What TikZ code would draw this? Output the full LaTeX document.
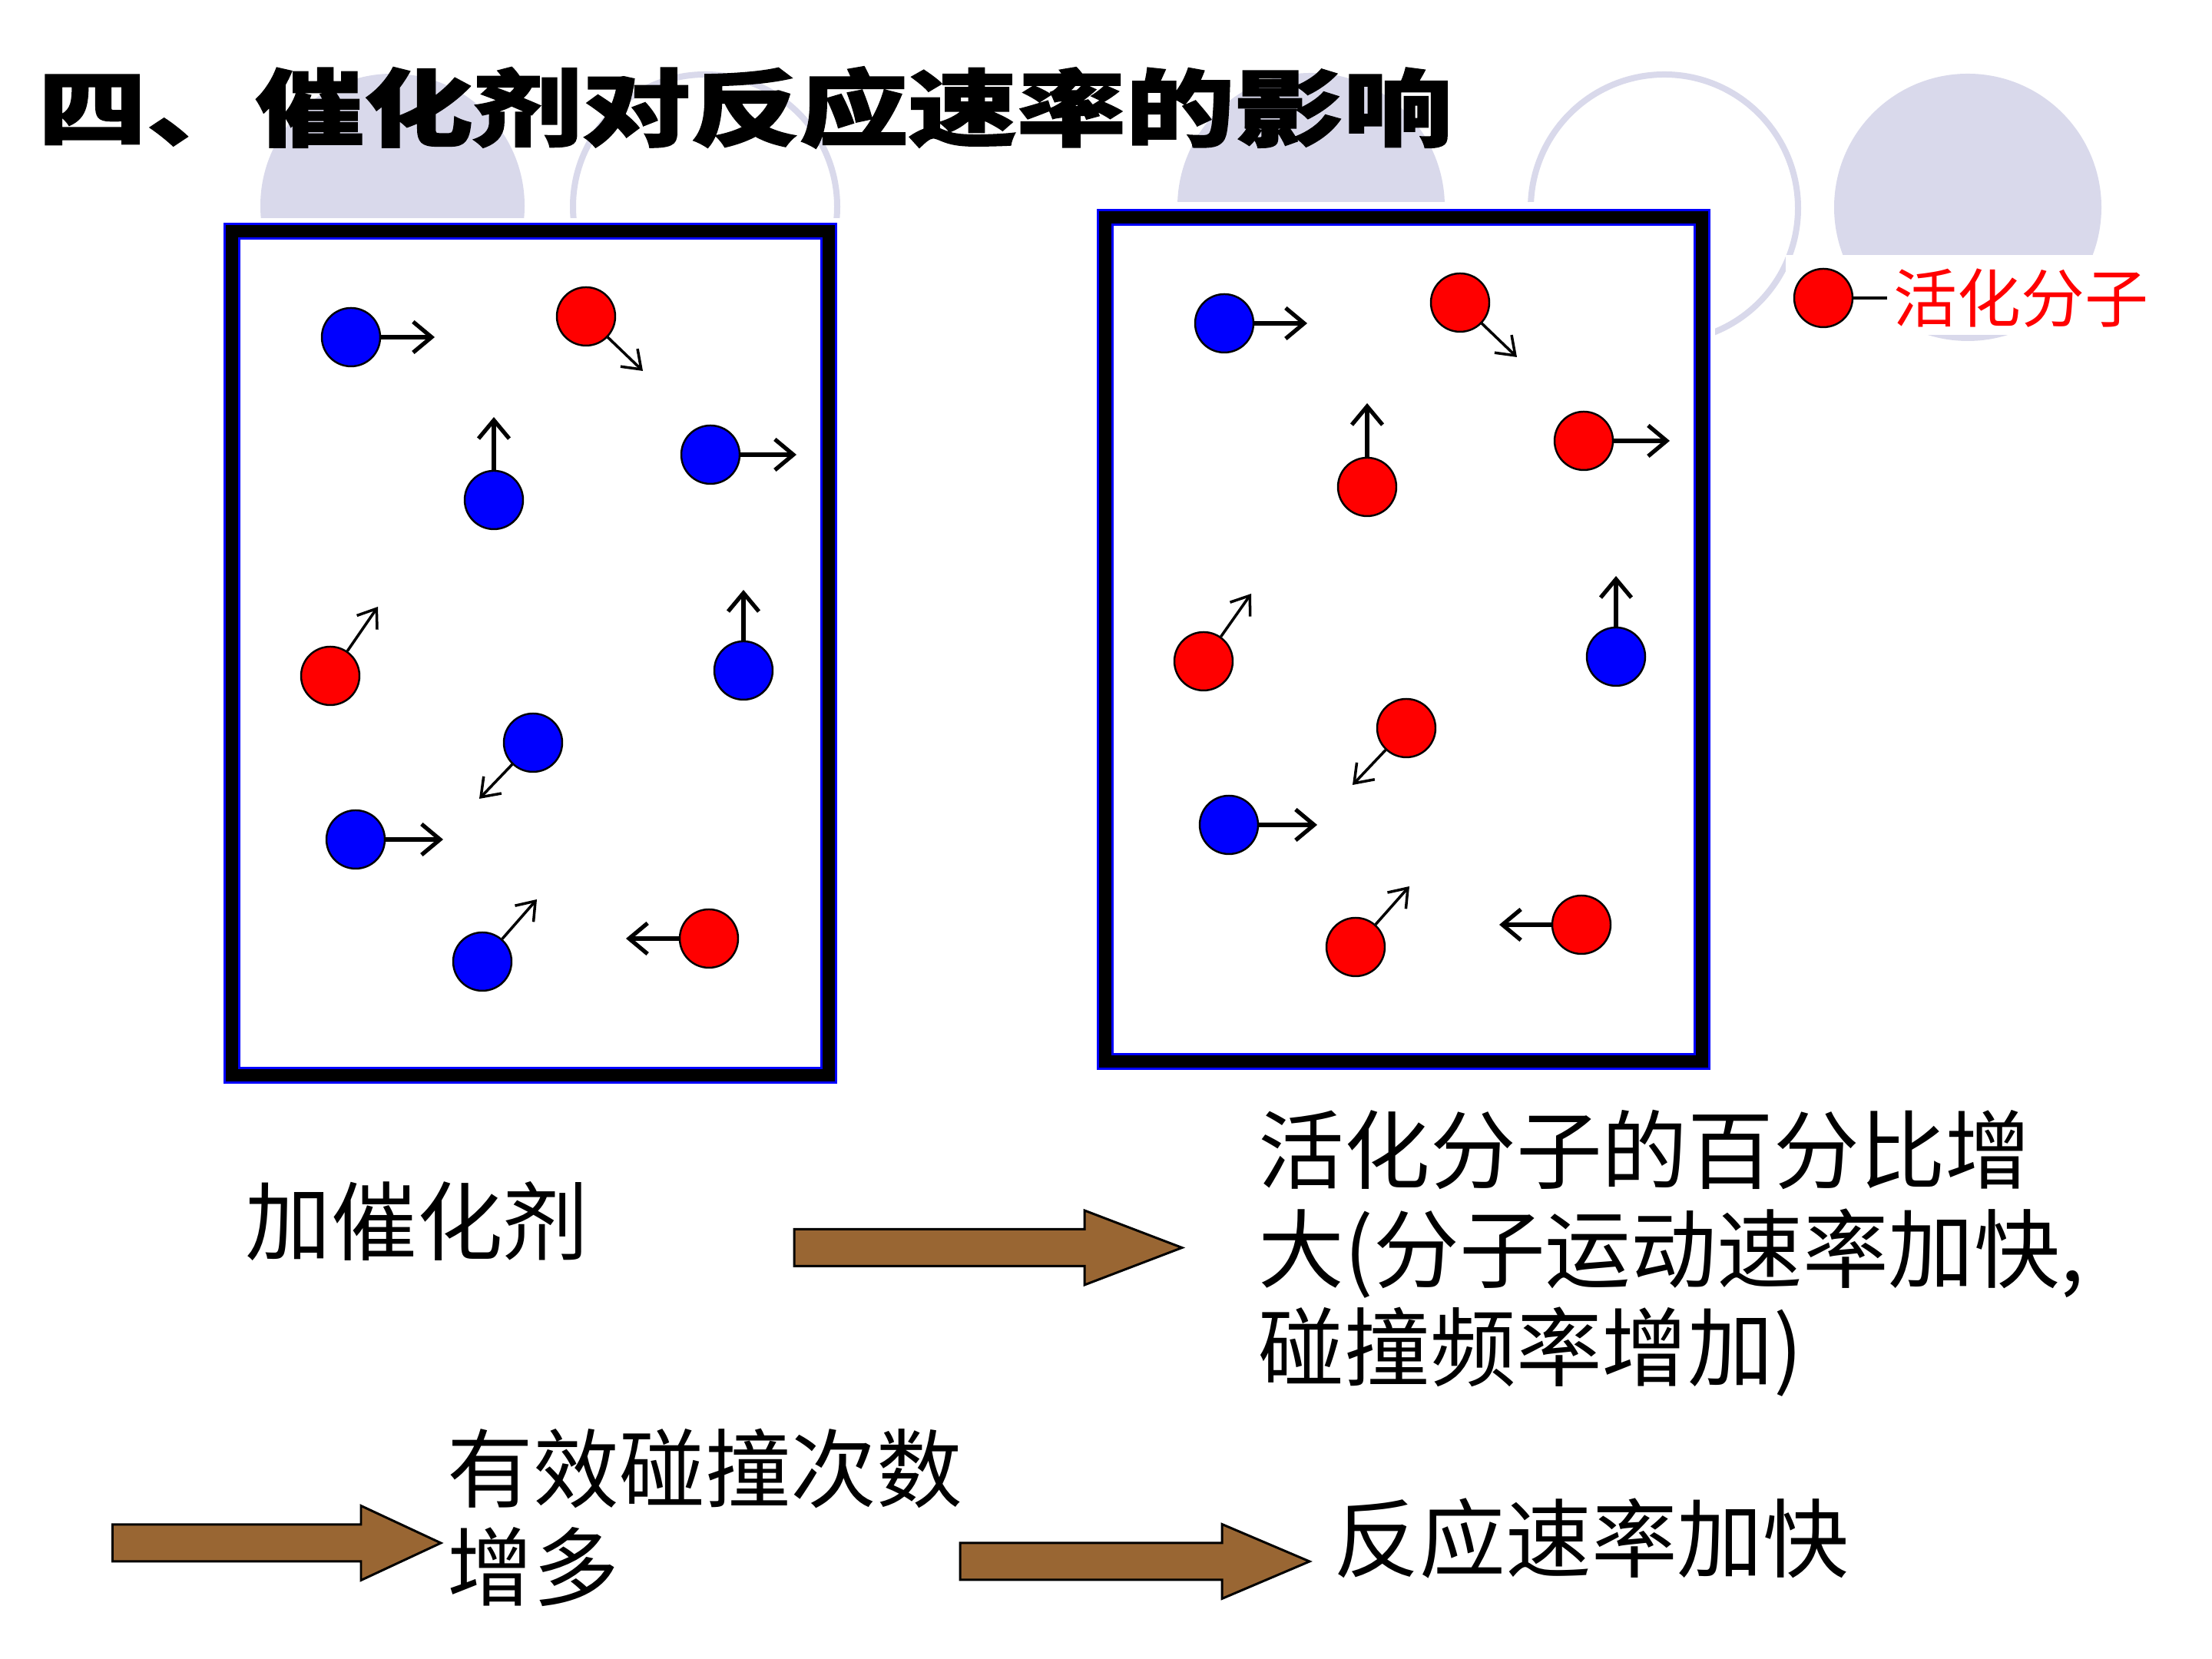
\documentclass[tikz,border=0pt]{standalone}
\usepackage{fontspec}
\usetikzlibrary{arrows.meta, calc}
\newfontfamily\cjk{Noto Sans CJK SC}
\newfontfamily\cjktitle[FakeStretch=1.3, BoldFeatures={FakeBold=1.8}]{Noto Sans CJK SC}
\definecolor{lav}{HTML}{D9D9EB}
\definecolor{molblue}{HTML}{0000FF}
\definecolor{molred}{HTML}{FF0000}
\definecolor{arrbrown}{HTML}{996633}

\begin{document}
\begin{tikzpicture}[
  >={Straight Barb[length=2.4mm, width=4mm]},
  ball/.style={circle, draw=black, line width=0.7pt, fill=#1,
    minimum size=7.6mm, inner sep=0pt},
  vel/.style={->, line width=1.5pt},
  veld/.style={-{Straight Barb[length=2.2mm, width=3.2mm]}, line width=1pt},
  frame/.style={rectangle, draw=molblue, line width=0.3mm, double=black,
    double distance=1.6mm, fill=white, minimum width=7.77cm,
    minimum height=10.99cm, inner sep=0pt},
  deco/.style={lav, line width=0.8mm},
  bigtxt/.style={font=\cjk\fontsize{31.8}{36.5}\selectfont, anchor=west,
    align=left, inner sep=0pt},
  fatarr/.style={draw=black, line width=0.85pt, fill=arrbrown,
    to path={let \p1=(\tikztostart), \p2=(\tikztotarget) in
      (\x1,\y1+2.4mm) -- (\x2-#1,\y1+2.4mm) -- (\x2-#1,\y1+4.85mm) -- (\x2,\y1)
      -- (\x2-#1,\y1-4.85mm) -- (\x2-#1,\y1-2.4mm) -- (\x1,\y1-2.4mm) -- cycle}},
]

% Background
\fill[white] (0,0) rectangle (28.8,21.6);
\useasboundingbox (0,0) rectangle (28.8,21.6);

% Template circles
\fill[lav] (5.11,18.92) circle (1.72);
\draw[deco] (9.18,18.91) circle (1.72);
\fill[lav] (17.07,18.91) circle (1.74);
\draw[deco] (21.67,18.89) circle (1.74);
\fill[lav] (25.62,18.90) circle (1.74);

% white picture margins
\fill[white] (2.85,18.76) rectangle (11.05,7.40);
\fill[white] (14.20,18.97) rectangle (22.33,7.60);
\fill[white] (23.25,18.28) rectangle (28.07,17.24);

% Title
\node[font=\cjktitle\bfseries\fontsize{31}{36}\selectfont] (title) at (9.70,20.20)
  {四、催化剂对反应速率的影响};

% =============================================
% Left box: without catalyst
% =============================================
\node[frame] (boxa) at (6.905,13.09) {};

\foreach \nm/\col/\st/\x/\y/\ex/\ey in {
    a1/molblue/vel/4.57/17.21/5.66/17.21,
    a2/molred/veld/7.63/17.48/8.37/16.77,
    a3/molblue/vel/6.43/15.09/6.43/16.17,
    a4/molblue/vel/9.25/15.68/10.37/15.68,
    a5/molred/veld/4.30/12.80/4.92/13.70,
    a6/molblue/vel/9.68/12.87/9.68/13.92,
    a7/molblue/veld/6.94/11.93/6.24/11.20,
    a8/molblue/vel/4.63/10.67/5.77/10.67,
    a9/molblue/veld/6.28/9.08/6.99/9.89,
    a10/molred/vel/9.23/9.38/8.15/9.38} {
  \node[ball=\col] (\nm) at (\x,\y) {};
  \coordinate (\nm-end) at (\ex,\ey);
  \draw[\st] (\nm) -- (\nm-end);
}

% =============================================
% Right box: with catalyst
% =============================================
\node[frame] (boxb) at (18.275,13.275) {};

\foreach \nm/\col/\st/\x/\y/\ex/\ey in {
    b1/molblue/vel/15.94/17.39/17.02/17.39,
    b2/molred/veld/19.01/17.66/19.75/16.95,
    b3/molred/vel/17.80/15.26/17.80/16.35,
    b4/molred/vel/20.62/15.86/21.74/15.86,
    b5/molred/veld/15.67/12.99/16.29/13.87,
    b6/molblue/vel/21.04/13.05/21.04/14.10,
    b7/molred/veld/18.31/12.12/17.61/11.38,
    b8/molblue/vel/16.00/10.86/17.15/10.86,
    b9/molred/veld/17.65/9.27/18.35/10.06,
    b10/molred/vel/20.59/9.56/19.52/9.56} {
  \node[ball=\col] (\nm) at (\x,\y) {};
  \coordinate (\nm-end) at (\ex,\ey);
  \draw[\st] (\nm) -- (\nm-end);
}

% Legend
\node[ball=molred] (key) at (23.74,17.72) {};
\node[font=\cjk\fontsize{23.6}{28}\selectfont, text=molred, anchor=west,
      inner sep=0.8mm] (keytxt) at (24.57,17.72) {活化分子};
\draw[line width=1.4pt] (key) -- (keytxt);

% =============================================
% Bottom: chain of effects
% =============================================
\node[bigtxt] (addcat) at (3.19,5.70) {加催化剂};
\node[bigtxt] (pct) at (16.38,5.28)
  {活化分子的百分比增\\大(分子运动速率加快,\\碰撞频率增加)};
\node[bigtxt] (eff) at (5.82,1.84) {有效碰撞次数\\增多};
\node[bigtxt] (rate) at (17.36,1.57) {反应速率加快};

\coordinate (arr1-s) at (10.34,5.355);
\coordinate (arr1-e) at (15.39,5.355);
\draw[fatarr=1.27cm] (arr1-s) to (arr1-e);

\coordinate (arr2-s) at (1.465,1.51);
\coordinate (arr2-e) at (5.74,1.51);
\draw[fatarr=1.04cm] (arr2-s) to (arr2-e);

\coordinate (arr3-s) at (12.50,1.27);
\coordinate (arr3-e) at (17.05,1.27);
\draw[fatarr=1.14cm] (arr3-s) to (arr3-e);

\end{tikzpicture}
\end{document}
